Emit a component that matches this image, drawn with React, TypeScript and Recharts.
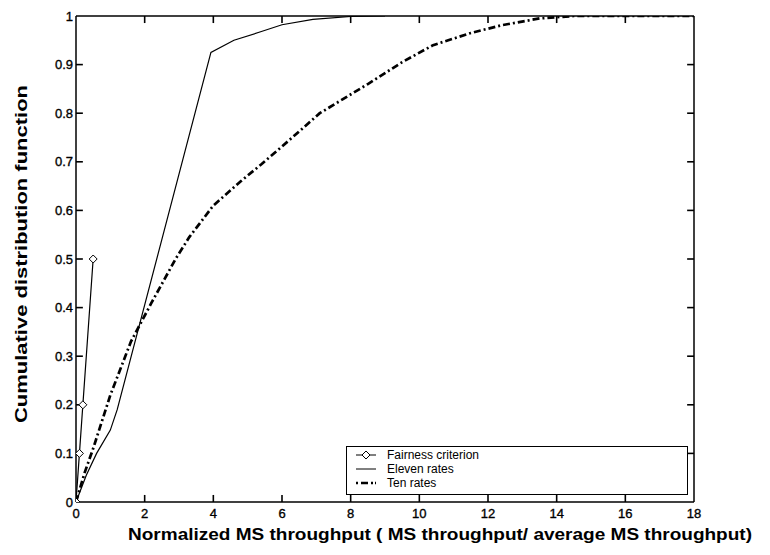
import React from 'react'
import { LineChart, Line, XAxis, YAxis, Legend, ReferenceLine } from 'recharts'

// x: normalized MS throughput, y: CDF
const xTicks = [0, 2, 4, 6, 8, 10, 12, 14, 16, 18]
const yTicks = [0, 0.1, 0.2, 0.3, 0.4, 0.5, 0.6, 0.7, 0.8, 0.9, 1]
const yTickLabels = ['0', '0.1', '0.2', '0.3', '0.4', '0.5', '0.6', '0.7', '0.8', '0.9', '1']

const fairnessX = [0, 0.1, 0.2, 0.5]
const fairnessY = [0, 0.1, 0.2, 0.5]

const elevenX = [0, 0.3, 0.6, 1.0, 1.2, 3.93, 4.6, 5.4, 6.0, 6.9, 8.0, 9.0]
const elevenY = [0, 0.055, 0.1, 0.148, 0.19, 0.925, 0.95, 0.968, 0.982, 0.993, 0.999, 1]

const tenX = [0, 0.25, 0.5, 1.0, 1.6, 2.2, 2.9, 3.3, 4.0, 4.8, 5.4, 6.3, 7.1, 8.5, 9.5, 10.4, 11.5, 12.4, 13.5, 14.5, 18]
const tenY = [0, 0.06, 0.11, 0.22, 0.33, 0.41, 0.5, 0.545, 0.61, 0.66, 0.695, 0.75, 0.8, 0.86, 0.905, 0.94, 0.965, 0.981, 0.995, 1, 1]

const legendNames = ['Fairness criterion', 'Eleven rates', 'Ten rates']

const zip = (xs: number[], ys: number[]) => xs.map((x, i) => ({ x, y: ys[i] }))

const fairness = zip(fairnessX, fairnessY)
const eleven = zip(elevenX, elevenY)
const ten = zip(tenX, tenY)

const FONT = '"Liberation Sans", Arial, Helvetica, sans-serif'
const TEN_DASH = '7 3 2 3'
const X_MAX = 18
const Y_MAX = 1
// inward tick length, in data units (about 7px on each axis)
const TICK_X = 0.2
const TICK_Y = 0.0145

const Diamond = (props: any) => {
  const { cx, cy } = props
  if (cx == null || cy == null) return null
  const r = 4
  return (
    <polygon
      points={`${cx},${cy - r} ${cx + r},${cy} ${cx},${cy + r} ${cx - r},${cy}`}
      fill="#fff"
      stroke="#000"
      strokeWidth={1}
    />
  )
}

const tickText = { fontSize: 13, fontFamily: FONT, fill: '#000', stroke: '#000', strokeWidth: 0.35 }

const BottomTick = (props: any) => {
  const { x, y, payload } = props
  return (
    <text x={x} y={y + 16} textAnchor="middle" {...tickText}>
      {payload.value}
    </text>
  )
}

const LeftTick = (props: any) => {
  const { x, y, index } = props
  return (
    <text x={x - 3} y={y + 4.5} textAnchor="end" {...tickText}>
      {yTickLabels[index]}
    </text>
  )
}

const LegendBox = () => (
  <div
    style={{
      width: 340,
      height: 47,
      border: '1px solid #000',
      background: '#fff',
      position: 'relative',
      fontFamily: FONT,
      fontSize: 12,
    }}
  >
    <svg width={340} height={47} style={{ position: 'absolute', left: 0, top: 0 }}>
      <line x1={9} x2={29} y1={8} y2={8} stroke="#000" strokeWidth={1} />
      <Diamond cx={19} cy={8} />
      <line x1={9} x2={29} y1={22} y2={22} stroke="#000" strokeWidth={1} />
      <line x1={9} x2={29} y1={36} y2={36} stroke="#000" strokeWidth={2.5} strokeDasharray="2 3 7 3 2" />
      {legendNames.map((name, i) => (
        <text key={name} x={40} y={12 + i * 14} fontSize={12} fontFamily={FONT} fill="#000">
          {name}
        </text>
      ))}
    </svg>
  </div>
)

const axisLine = { stroke: '#000', strokeWidth: 1.5 }
const tickStroke = 1.6

export default function App() {
  return (
    <div style={{ position: 'absolute', left: 0, top: 0, width: 770, height: 555, background: '#fff' }}>
      <LineChart width={770} height={555} margin={{ top: 6, right: 66, bottom: 23, left: 36 }}>
        <XAxis
          xAxisId="b"
          dataKey="x"
          type="number"
          domain={[0, X_MAX]}
          ticks={xTicks}
          interval={0}
          height={30}
          tickSize={0}
          tickMargin={0}
          tickLine={false}
          axisLine={axisLine}
          tick={<BottomTick />}
          allowDataOverflow
        />
        <XAxis
          xAxisId="t"
          orientation="top"
          dataKey="x"
          type="number"
          domain={[0, X_MAX]}
          height={10}
          tickLine={false}
          axisLine={axisLine}
          tick={false}
          allowDataOverflow
        />
        <YAxis
          yAxisId="l"
          type="number"
          domain={[0, Y_MAX]}
          ticks={yTicks}
          interval={0}
          width={40}
          tickSize={0}
          tickMargin={0}
          tickLine={false}
          axisLine={axisLine}
          tick={<LeftTick />}
          allowDataOverflow
        />
        <YAxis
          yAxisId="r"
          orientation="right"
          type="number"
          domain={[0, Y_MAX]}
          width={10}
          tickLine={false}
          axisLine={axisLine}
          tick={false}
          allowDataOverflow
        />
        {xTicks.slice(1, -1).map((t) => (
          <ReferenceLine
            key={`xb${t}`}
            xAxisId="b"
            yAxisId="l"
            segment={[{ x: t, y: 0 }, { x: t, y: TICK_Y }]}
            stroke="#000"
            strokeWidth={tickStroke}
            ifOverflow="visible"
          />
        ))}
        {xTicks.slice(1, -1).map((t) => (
          <ReferenceLine
            key={`xt${t}`}
            xAxisId="b"
            yAxisId="l"
            segment={[{ x: t, y: Y_MAX }, { x: t, y: Y_MAX - TICK_Y }]}
            stroke="#000"
            strokeWidth={tickStroke}
            ifOverflow="visible"
          />
        ))}
        {yTicks.slice(1, -1).map((t) => (
          <ReferenceLine
            key={`yl${t}`}
            xAxisId="b"
            yAxisId="l"
            segment={[{ x: 0, y: t }, { x: TICK_X, y: t }]}
            stroke="#000"
            strokeWidth={tickStroke}
            ifOverflow="visible"
          />
        ))}
        {yTicks.slice(1, -1).map((t) => (
          <ReferenceLine
            key={`yr${t}`}
            xAxisId="b"
            yAxisId="l"
            segment={[{ x: X_MAX, y: t }, { x: X_MAX - TICK_X, y: t }]}
            stroke="#000"
            strokeWidth={tickStroke}
            ifOverflow="visible"
          />
        ))}
        <Line
          xAxisId="b"
          yAxisId="l"
          data={eleven}
          dataKey="y"
          type="linear"
          stroke="#000"
          strokeWidth={1.2}
          dot={false}
          isAnimationActive={false}
        />
        <Line
          xAxisId="b"
          yAxisId="l"
          data={ten}
          dataKey="y"
          type="linear"
          stroke="#000"
          strokeWidth={2.7}
          strokeDasharray={TEN_DASH}
          dot={false}
          isAnimationActive={false}
        />
        <Line
          xAxisId="b"
          yAxisId="l"
          data={fairness}
          dataKey="y"
          type="linear"
          stroke="#000"
          strokeWidth={1.2}
          dot={<Diamond />}
          isAnimationActive={false}
        />
        <Legend
          layout="vertical"
          align="center"
          verticalAlign="middle"
          content={<LegendBox />}
          wrapperStyle={{ position: 'absolute', left: 346, top: 446, width: 342, height: 49 }}
        />
      </LineChart>
      <svg
        width={770}
        height={555}
        style={{ position: 'absolute', left: 0, top: 0, pointerEvents: 'none' }}
      >
        <text
          x={440}
          y={540}
          textAnchor="middle"
          fontSize={17}
          fontWeight="bold"
          fontFamily={FONT}
          textLength={624}
          lengthAdjust="spacingAndGlyphs"
        >
          Normalized MS throughput ( MS throughput/ average MS throughput)
        </text>
        <text
          transform="translate(27,254) rotate(-90)"
          textAnchor="middle"
          fontSize={17}
          fontWeight="bold"
          fontFamily={FONT}
          textLength={338}
          lengthAdjust="spacingAndGlyphs"
        >
          Cumulative distribution function
        </text>
      </svg>
    </div>
  )
}
